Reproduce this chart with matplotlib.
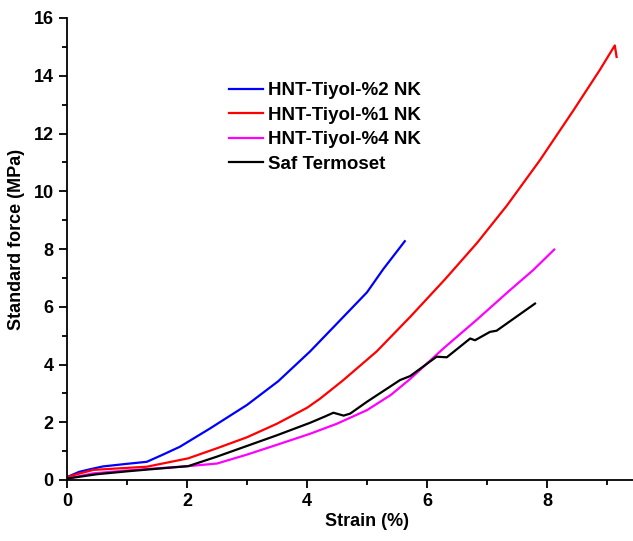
import numpy as np
import matplotlib.pyplot as plt

plt.rcParams['font.family'] = ['Liberation Sans', 'DejaVu Sans']
plt.rcParams['font.weight'] = 'bold'

# HNT-Tiyol-%2 NK
strain_2 = [0.0, 0.2, 0.38, 0.6, 1.0, 1.33, 1.6, 1.88, 2.38, 3.0, 3.52, 4.05, 4.5, 5.0, 5.27, 5.63]
force_2 = [0.1, 0.28, 0.37, 0.47, 0.56, 0.63, 0.88, 1.15, 1.78, 2.6, 3.42, 4.45, 5.42, 6.5, 7.3, 8.27]

# HNT-Tiyol-%1 NK
strain_1 = [0.0, 0.2, 0.44, 1.0, 1.33, 2.02, 2.5, 3.0, 3.5, 4.0, 4.22, 4.6, 5.16, 5.72, 6.3,
            6.83, 7.33, 7.88, 8.44, 8.88, 9.13, 9.16]
force_1 = [0.1, 0.22, 0.35, 0.42, 0.46, 0.75, 1.1, 1.48, 1.95, 2.5, 2.82, 3.45, 4.45, 5.65, 6.95,
           8.2, 9.5, 11.07, 12.8, 14.2, 15.05, 14.65]

# HNT-Tiyol-%4 NK
strain_4 = [0.0, 0.44, 1.0, 1.33, 2.02, 2.5, 3.0, 3.5, 4.05, 4.5, 5.0, 5.4, 5.72, 6.27, 6.83,
            7.38, 7.77, 8.12]
force_4 = [0.05, 0.23, 0.33, 0.38, 0.48, 0.57, 0.88, 1.22, 1.6, 1.95, 2.42, 2.95, 3.5, 4.55, 5.55,
           6.57, 7.27, 7.98]

# Saf Termoset
strain_s = [0.0, 0.5, 1.0, 1.33, 2.02, 2.5, 3.0, 3.5, 4.05, 4.3, 4.44, 4.61, 4.72, 5.0, 5.55,
            5.72, 6.16, 6.33, 6.72, 6.8, 7.05, 7.16, 7.8]
force_s = [0.05, 0.2, 0.3, 0.36, 0.48, 0.81, 1.18, 1.55, 1.98, 2.2, 2.33, 2.23, 2.3, 2.71, 3.46,
           3.6, 4.27, 4.25, 4.9, 4.84, 5.13, 5.17, 6.11]

W, H = 633, 541
fig = plt.figure(figsize=(W / 100, H / 100), dpi=100)
ax = fig.add_axes([67 / W, 1 - 480 / H, 600 / W, 462 / H])

ax.plot(strain_2, force_2, color='#0000ff', lw=1.6, label='HNT-Tiyol-%2 NK')
ax.plot(strain_1, force_1, color='#ff0000', lw=1.6, label='HNT-Tiyol-%1 NK')
ax.plot(strain_4, force_4, color='#ff00ff', lw=1.6, label='HNT-Tiyol-%4 NK')
ax.plot(strain_s, force_s, color='black', lw=1.6, label='Saf Termoset')

ax.set_xlim(0, 10)
ax.set_ylim(0, 16)
ax.set_xticks([0, 2, 4, 6, 8])
ax.set_xticks([1, 3, 5, 7, 9], minor=True)
ax.set_yticks(range(0, 17, 2))
ax.set_yticks(range(1, 16, 2), minor=True)

for s in ['top', 'right']:
    ax.spines[s].set_visible(False)
for s in ['left', 'bottom']:
    ax.spines[s].set_linewidth(1.3)
ax.tick_params(which='major', direction='out', length=6, width=1.3, labelsize=13)
ax.tick_params(which='minor', direction='out', length=3.5, width=1.3)

ax.set_xlabel('Strain (%)', fontsize=13, fontweight='bold', labelpad=2)
ax.set_ylabel('Standard force (MPa)', fontsize=13, fontweight='bold')
ax.yaxis.set_label_coords(-0.07, 0.52)

ax.legend(loc='upper left', bbox_to_anchor=(229 / W, 1 - 82 / H), bbox_transform=fig.transFigure,
          frameon=False, fontsize=13.5, handlelength=1.8, handletextpad=0.3,
          labelspacing=0.4, borderpad=0, borderaxespad=0)

fig.savefig('out.png', dpi=100)
